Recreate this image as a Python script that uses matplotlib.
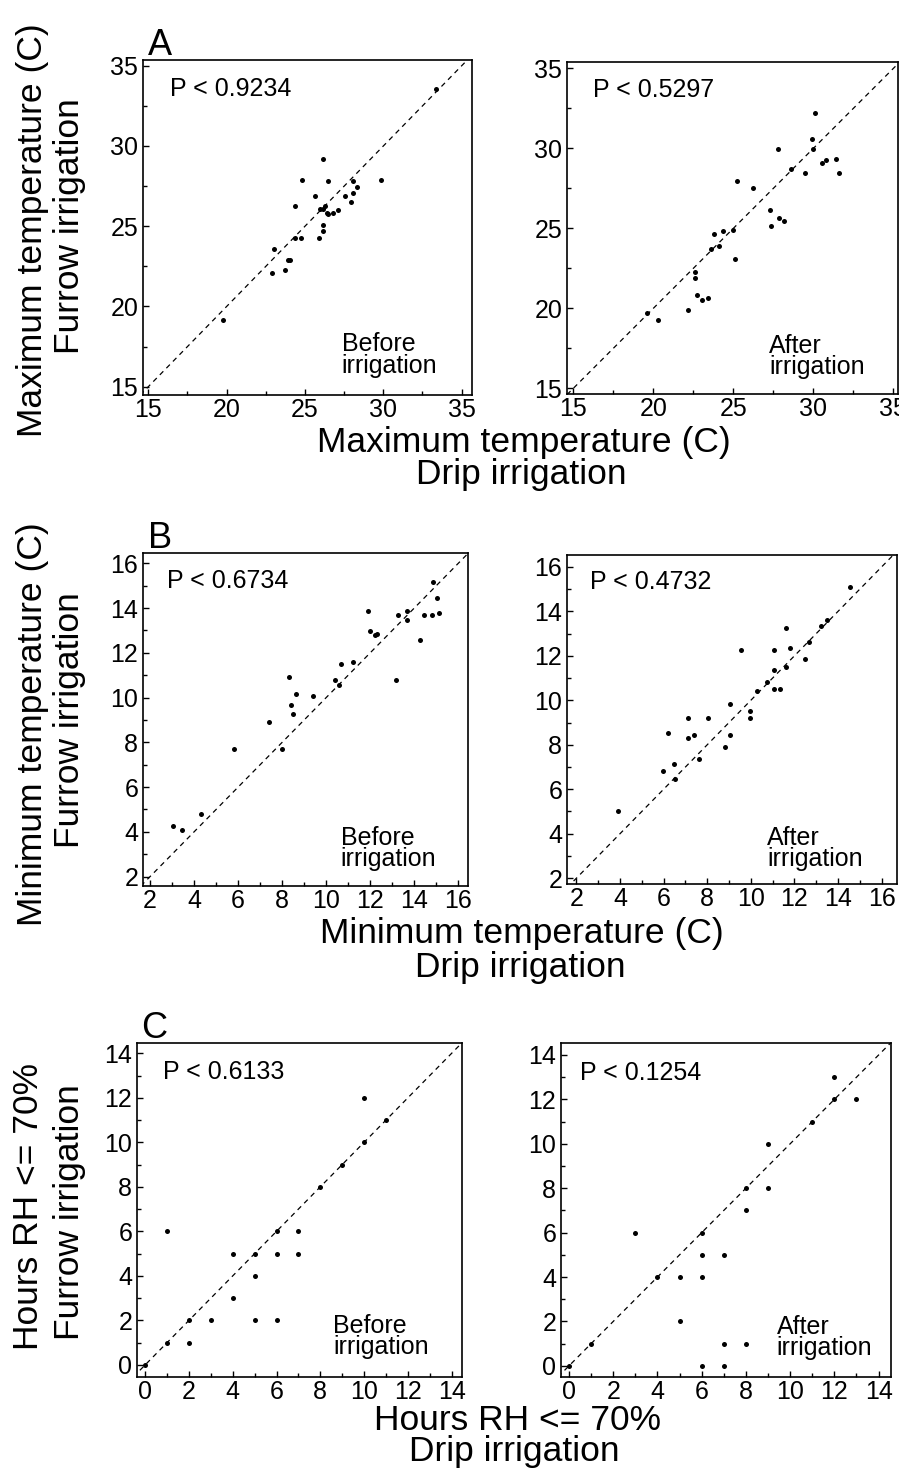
import matplotlib
matplotlib.use("Agg")
import matplotlib.pyplot as plt
from matplotlib.ticker import MultipleLocator

plt.rcParams['font.family'] = ['Liberation Sans', 'DejaVu Sans']

W, H = 899, 1472

# A: maximum temperature (C), drip (x) vs furrow (y)
max_before_drip = [33.36, 26.17, 24.79, 26.45, 29.83, 28.04, 25.66, 27.55, 28.04, 28.32,
                   27.93, 24.36, 25.96, 26.13, 26.26, 26.38, 26.49, 26.81, 27.13, 26.13,
                   26.13, 25.91, 24.36, 24.77, 23.04, 23.94, 24.06, 22.87, 23.72, 19.77]
max_before_furrow = [33.54, 29.2, 27.89, 27.79, 27.89, 27.83, 26.91, 26.89, 27.1, 27.47,
                     26.54, 26.27, 26.06, 26.06, 26.23, 25.81, 25.77, 25.85, 26.02, 25.08,
                     24.73, 24.29, 24.29, 24.29, 23.57, 22.9, 22.9, 22.11, 22.28, 19.14]
max_after_drip = [30.1, 29.9, 30.0, 27.81, 30.56, 30.77, 31.42, 31.63, 29.48, 28.6,
                  25.25, 26.21, 27.27, 27.88, 28.19, 27.38, 25.0, 24.33, 23.81, 24.1,
                  23.63, 25.1, 22.6, 22.6, 22.71, 23.02, 23.4, 22.17, 19.63, 20.31]
max_after_furrow = [32.19, 30.56, 29.94, 29.98, 29.1, 29.27, 29.31, 28.48, 28.48, 28.71,
                    27.98, 27.5, 26.13, 25.67, 25.46, 25.17, 24.9, 24.85, 24.67, 23.88,
                    23.69, 23.08, 22.25, 21.9, 20.83, 20.52, 20.63, 19.9, 19.69, 19.27]

# B: minimum temperature (C)
min_before_drip = [14.87, 15.05, 15.14, 14.79, 14.46, 14.26, 13.65, 13.65, 13.28, 11.88,
                   11.99, 12.22, 12.32, 13.15, 11.2, 10.69, 10.4, 10.58, 9.39, 8.61,
                   8.33, 8.4, 8.51, 7.42, 7.98, 5.83, 4.32, 3.03, 3.44]
min_before_furrow = [15.16, 14.47, 13.77, 13.67, 13.67, 12.58, 13.89, 13.48, 13.67, 13.89,
                     12.98, 12.8, 12.85, 10.79, 11.58, 11.49, 10.79, 10.55, 10.08, 10.17,
                     10.91, 9.67, 9.27, 8.89, 7.71, 7.69, 4.79, 4.28, 4.09]
min_after_drip = [14.55, 13.51, 13.21, 11.59, 12.67, 11.79, 11.07, 9.57, 12.47, 11.59,
                  11.07, 10.76, 11.07, 11.34, 10.26, 9.04, 9.94, 9.94, 8.02, 7.11,
                  6.18, 7.1, 7.4, 9.04, 8.81, 7.62, 6.49, 5.95, 6.52, 3.92]
min_after_furrow = [15.1, 13.6, 13.35, 13.23, 12.63, 12.36, 12.25, 12.25, 11.85, 11.48,
                    11.36, 10.83, 10.5, 10.5, 10.41, 9.83, 9.51, 9.22, 9.22, 9.22,
                    8.54, 8.32, 8.42, 8.42, 7.91, 7.37, 7.13, 6.82, 6.45, 5.02]

# C: hours RH <= 70%
rh_before_drip = [10, 11, 10, 9, 8, 6, 7, 1, 4, 5, 6, 7, 5, 4, 2, 3, 5, 6, 1, 2, 0]
rh_before_furrow = [12, 11, 10, 9, 8, 6, 6, 6, 5, 5, 5, 5, 4, 3, 2, 2, 2, 2, 1, 1, 0]
rh_after_drip = [12, 12, 13, 11, 9, 8, 9, 8, 3, 6, 6, 7, 4, 5, 6, 5, 1, 7, 8, 6, 7, 0]
rh_after_furrow = [13, 12, 12, 11, 10, 8, 8, 7, 6, 6, 5, 5, 4, 4, 4, 2, 1, 1, 1, 0, 0, 0]

p_values = ["P < 0.9234", "P < 0.5297", "P < 0.6734", "P < 0.4732", "P < 0.6133", "P < 0.1254"]
temp_ticks = [15, 20, 25, 30, 35]
min_ticks = [2, 4, 6, 8, 10, 12, 14, 16]
rh_ticks = [0, 2, 4, 6, 8, 10, 12, 14]

fig = plt.figure(figsize=(W / 100, H / 100), dpi=100)


def ftext(x, y, s, **kw):
    fig.text(x / W, 1 - y / H, s, **kw)


def draw_panel(box, xs, ys, xlim, ylim, ticks, minor, ptxt, ppos, tag, tpos):
    l, t, r, b = box
    ax = fig.add_axes([l / W, 1 - b / H, (r - l) / W, (b - t) / H])
    lo = min(xlim[0], ylim[0])
    hi = max(xlim[1], ylim[1])
    ax.plot([lo, hi], [lo, hi], color='black', lw=0.9, ls=(0, (4, 3.5)))
    ax.plot(xs, ys, 'o', ms=3.6, mew=0, color='black', zorder=3)
    ax.set_xlim(xlim)
    ax.set_ylim(ylim)
    ax.set_xticks(ticks)
    ax.set_yticks(ticks)
    ax.xaxis.set_minor_locator(MultipleLocator(minor))
    ax.yaxis.set_minor_locator(MultipleLocator(minor))
    ax.tick_params(which='both', direction='in', top=False, right=False,
                   labelsize=18, width=1)
    ax.tick_params(which='major', length=4.5)
    ax.tick_params(which='minor', length=3)
    ax.tick_params(axis='x', pad=2)
    ax.tick_params(axis='y', pad=3.5)
    for s in ax.spines.values():
        s.set_linewidth(1.2)
    ax.text(ppos[0], ppos[1], ptxt, transform=ax.transAxes, fontsize=18,
            va='baseline', ha='left')
    ax.text(tpos[0], tpos[1], tag, transform=ax.transAxes, fontsize=18,
            va='baseline', ha='left')
    ax.text(tpos[0], tpos[2], "irrigation", transform=ax.transAxes, fontsize=18,
            va='baseline', ha='left')
    return ax


# row A
draw_panel((143, 60, 472, 395), max_before_drip, max_before_furrow,
           (14.66, 35.66), (14.48, 35.36), temp_ticks, 2.5,
           p_values[0], (0.082, 0.892), "Before", (0.604, 0.13, 0.067))
draw_panel((567, 62, 898, 394), max_after_drip, max_after_furrow,
           (14.6, 35.29), (14.64, 35.4), temp_ticks, 2.5,
           p_values[1], (0.079, 0.895), "After", (0.611, 0.124, 0.059))

# row B
draw_panel((143, 553, 468, 886), min_before_drip, min_before_furrow,
           (1.68, 16.44), (1.58, 16.46), min_ticks, 1,
           p_values[2], (0.073, 0.895), "Before", (0.608, 0.124, 0.06))
draw_panel((567, 555, 897, 884), min_after_drip, min_after_furrow,
           (1.57, 16.7), (1.74, 16.53), min_ticks, 1,
           p_values[3], (0.07, 0.897), "After", (0.607, 0.12, 0.056))

# row C
draw_panel((137, 1043, 462, 1377), rh_before_drip, rh_before_furrow,
           (-0.37, 14.47), (-0.54, 14.46), rh_ticks, 1,
           p_values[4], (0.081, 0.892), "Before", (0.604, 0.131, 0.069))
draw_panel((561, 1043, 891, 1377), rh_after_drip, rh_after_furrow,
           (-0.36, 14.56), (-0.5, 14.54), rh_ticks, 1,
           p_values[5], (0.058, 0.89), "After", (0.654, 0.128, 0.066))

# panel letters
ftext(148, 55, "A", fontsize=26, va='baseline')
ftext(148, 548, "B", fontsize=26, va='baseline')
ftext(141, 1038, "C", fontsize=26, va='baseline')

# x labels
lab = dict(fontsize=25.5, ha='center', va='baseline')
ftext(524, 452, "Maximum temperature (C)", **lab)
ftext(521, 484, "Drip irrigation", **lab)
ftext(522, 943, "Minimum temperature (C)", **lab)
ftext(520, 977, "Drip irrigation", **lab)
ftext(518, 1430, "Hours RH <= 70%", **lab)
ftext(514, 1461, "Drip irrigation", **lab)

# y labels
ylab = dict(fontsize=25.5, ha='center', va='baseline', rotation=90, rotation_mode='anchor')
ftext(42, 230, "Maximum temperature (C)", **ylab)
ftext(79, 226, "Furrow irrigation", **ylab)
ftext(42, 724, "Minimum temperature (C)", **ylab)
ftext(79, 720, "Furrow irrigation", **ylab)
ftext(38, 1206, "Hours RH <= 70%", **ylab)
ftext(79, 1212, "Furrow irrigation", **ylab)

fig.savefig("out.png", dpi=100)
